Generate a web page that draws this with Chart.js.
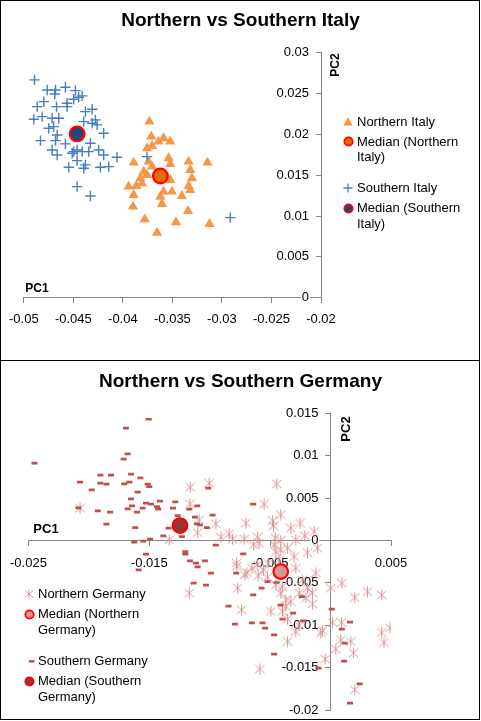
<!DOCTYPE html>
<html><head><meta charset="utf-8">
<script src="https://cdn.jsdelivr.net/npm/chart.js@4.4.1/dist/chart.umd.min.js"></script>
<style>
html,body{margin:0;padding:0;background:#fff;}
body{width:481px;height:721px;position:relative;overflow:hidden;font-family:"Liberation Sans",Arial,sans-serif;}
canvas{position:absolute;left:0;}
.panel{position:absolute;left:0;width:480px;box-sizing:border-box;border:1px solid #000;pointer-events:none;}
#p1{top:0;height:361px;}
#p2{top:360px;height:360px;}
.t{position:absolute;white-space:nowrap;color:#000;}
.title{font-weight:bold;font-size:19px;line-height:22px;width:481px;text-align:center;left:0;}
.ax{font-weight:bold;line-height:1;transform:translate(-50%,-50%);}
.axv{font-weight:bold;line-height:1;transform:translate(-50%,-50%) rotate(-90deg);}
.lg{font-size:13px;line-height:15.6px;}
.mk{position:absolute;overflow:visible;}
</style></head><body>
<canvas id="c1" width="481" height="360" style="top:0"></canvas>
<canvas id="c2" width="481" height="361" style="top:360px"></canvas>
<div class="panel" id="p1"></div>
<div class="panel" id="p2"></div>

<div class="t title" style="top:9px">Northern vs Southern Italy</div>
<div class="t ax" style="left:37px;top:288px;font-size:12px">PC1</div>
<div class="t axv" style="left:335px;top:65px;font-size:12px">PC2</div>

<svg class="mk" width="10" height="9" style="left:343px;top:117px"><polygon points="5,0.3 9.7,8.6 0.3,8.6" fill="#F79646"/></svg>
<div class="t lg" style="left:357px;top:113.7px">Northern Italy</div>
<svg class="mk" width="11" height="11" style="left:342.5px;top:136.2px"><circle cx="5.5" cy="5.5" r="4.2" fill="#E46C0A" stroke="#FF0000" stroke-width="1.8"/></svg>
<div class="t lg" style="left:357px;top:133.7px">Median (Northern<br>Italy)</div>
<svg class="mk" width="10" height="10" style="left:343px;top:183.3px"><path d="M0.5,5H9.5M5,0.5V9.5" stroke="#4A7EBB" stroke-width="1.3"/></svg>
<div class="t lg" style="left:357px;top:180.3px">Southern Italy</div>
<svg class="mk" width="11" height="11" style="left:342.5px;top:202.8px"><circle cx="5.5" cy="5.5" r="4.2" fill="#1F497D" stroke="#FF0000" stroke-width="1.8"/></svg>
<div class="t lg" style="left:357px;top:200.3px">Median (Southern<br>Italy)</div>

<div class="t title" style="top:369.7px">Northern vs Southern Germany</div>
<div class="t ax" style="left:46px;top:528px;font-size:13px">PC1</div>
<div class="t axv" style="left:344.5px;top:429px;font-size:13px">PC2</div>

<svg class="mk" width="10" height="10" style="left:24px;top:589.3px"><path d="M5,0.5V9.5M1,1.5L9,8.5M9,1.5L1,8.5" stroke="#D99694" stroke-width="1"/></svg>
<div class="t lg" style="left:38px;top:586.3px">Northern Germany</div>
<svg class="mk" width="11" height="11" style="left:23.8px;top:608.8px"><circle cx="5.5" cy="5.5" r="4.2" fill="#D99694" stroke="#FF0000" stroke-width="1.8"/></svg>
<div class="t lg" style="left:38px;top:606.3px">Median (Northern<br>Germany)</div>
<svg class="mk" width="6" height="3" style="left:28.5px;top:659.7px"><rect x="0" y="0" width="5.5" height="2.6" fill="#C0504D"/></svg>
<div class="t lg" style="left:38px;top:653px">Southern Germany</div>
<svg class="mk" width="11" height="11" style="left:23.8px;top:675.5px"><circle cx="5.5" cy="5.5" r="4.2" fill="#953735" stroke="#FF0000" stroke-width="1.8"/></svg>
<div class="t lg" style="left:38px;top:673px">Median (Southern<br>Germany)</div>

<script>
// ---------------- Data: Northern vs Southern Italy ----------------
const italyNorthX = [-0.03733,-0.03713,-0.03589,-0.03522,-0.0364,-0.03706,-0.03756,-0.03538,-0.03891,-0.0374,-0.03522,-0.03337,-0.03146,-0.0379,-0.03756,-0.0332,-0.03303,-0.03522,-0.03807,-0.03942,-0.03864,-0.03337,-0.0332,-0.03589,-0.03505,-0.03891,-0.03622,-0.03404,-0.03605,-0.03898,-0.03343,-0.0378,-0.03464,-0.03126,-0.03655,-0.03706,-0.03824,-0.03555];
const italyNorthY = [0.02156,0.01972,0.01953,0.01911,0.01911,0.01858,0.0183,0.01708,0.01654,0.01666,0.01638,0.01666,0.01654,0.01544,0.01503,0.01564,0.01463,0.01442,0.01401,0.0136,0.01368,0.01368,0.01319,0.01299,0.01299,0.01258,0.01237,0.01246,0.01148,0.01115,0.01062,0.0096,0.00924,0.00903,0.00796,0.01605,0.01463,0.01483];
const italySouthX = [-0.04892,-0.04764,-0.0468,-0.04688,-0.0458,-0.04479,-0.04496,-0.04411,-0.04446,-0.04798,-0.04865,-0.0467,-0.04563,-0.04563,-0.04378,-0.0431,-0.04899,-0.04815,-0.04714,-0.04647,-0.04748,-0.04698,-0.04395,-0.0431,-0.04277,-0.0426,-0.04194,-0.04663,-0.04832,-0.0468,-0.0458,-0.04328,-0.04714,-0.04663,-0.04512,-0.04462,-0.04411,-0.04244,-0.04194,-0.04345,-0.04059,-0.04462,-0.04378,-0.04546,-0.04395,-0.04227,-0.04143,-0.04462,-0.04328,-0.04496,-0.03756,-0.02916];
const italySouthY = [0.02667,0.02544,0.02544,0.02495,0.02577,0.02536,0.0243,0.02471,0.02455,0.02401,0.0234,0.0234,0.02381,0.0234,0.02279,0.02308,0.02185,0.02217,0.02198,0.02198,0.02075,0.02095,0.02156,0.02136,0.02177,0.02116,0.02014,0.01993,0.01923,0.01923,0.01883,0.01891,0.01809,0.01748,0.01769,0.01809,0.01789,0.01809,0.01748,0.01789,0.0172,0.01678,0.01626,0.01597,0.01585,0.01597,0.01605,0.0136,0.01246,0.01789,0.01727,0.0098];
const italyNorthMedian = [-0.03622, 0.0149];
const italySouthMedian = [-0.04462, 0.02005];
const italyXTicks = [-0.05,-0.045,-0.04,-0.035,-0.03,-0.025,-0.02];
const italyYTicks = [0,0.005,0.01,0.015,0.02,0.025,0.03];

// ---------------- Data: Northern vs Southern Germany ----------------
const gerNorthX = [-0.02073,-0.01161,-0.01004,-0.01164,-0.01087,-0.00949,-0.0110,-0.01335,-0.00907,-0.00839,-0.00811,-0.00701,-0.00715,-0.00778,-0.00709,-0.00693,-0.00769,-0.01169,-0.00736,-0.00445,-0.0055,-0.00604,-0.00591,-0.00637,-0.0048,-0.00472,-0.00412,-0.00329,-0.00252,-0.00213,-0.00136,-0.00191,-0.00108,-0.00288,-0.00412,-0.00459,-0.00467,-0.00412,-0.00356,-0.00302,-0.00517,-0.00604,-0.00651,-0.00775,-0.00585,-0.00453,-0.00453,-0.00398,-0.00412,-0.0037,-0.00288,-0.00232,-0.00191,-0.0015,-0.00205,-0.0015,-0.0026,-0.00122,-0.00494,-0.0037,-0.00329,-0.00398,-0.00356,-0.0026,-0.00288,-0.00356,-0.00067,-0.00081,0.00016,0.0009,0.00084,0.00167,0.00043,0.00189,-0.00045,0.0,0.00093,0.0020,0.00305,0.00423,0.00492,0.00423,0.00442,0.0020,-0.00555,-0.00426,-0.00599,-0.00521];
const gerNorthY = [0.00381,0.00629,0.00676,0.00432,0.00243,0.00196,0.00093,0.00007,0.00039,0.00078,0.00015,0.00204,0.00015,-0.00268,-0.00406,-0.00379,-0.00563,-0.00621,-0.00818,0.00667,0.00428,0.00039,-0.00032,-0.00052,0.00235,0.00172,0.00302,0.00145,0.00204,0.00054,0.00105,-0.00143,-0.00091,0.00007,-0.00001,0.00027,-0.00052,-0.00111,-0.00091,-0.0019,-0.00268,-0.00288,-0.00327,-0.0030,-0.01518,-0.00131,-0.00524,-0.00544,-0.00621,-0.0070,-0.00327,-0.00465,-0.00563,-0.00621,-0.0068,-0.00748,-0.00621,-0.00386,-0.00838,-0.00779,-0.0072,-0.00838,-0.00928,-0.01004,-0.01074,-0.01192,-0.01063,-0.01093,-0.00968,-0.00968,-0.01172,-0.01192,-0.01282,-0.01329,-0.0140,-0.00563,-0.00504,-0.00673,-0.00603,-0.00642,-0.01034,-0.01086,-0.01204,-0.01762,-0.00347,-0.00229,-0.00417,-0.00433];
const gerSouthX = [-0.01505,-0.01693,-0.0245,-0.01679,-0.01712,-0.01905,-0.01817,-0.01651,-0.01574,-0.02073,-0.01905,-0.01855,-0.01707,-0.01665,-0.01513,-0.0150,-0.01976,-0.01596,-0.01651,-0.01527,-0.01486,-0.01412,-0.01643,-0.01555,-0.01679,-0.01602,-0.01436,-0.01426,-0.01285,-0.01304,-0.01169,-0.02087,-0.01926,-0.01825,-0.01855,-0.01616,-0.0134,-0.01384,-0.01494,-0.01624,-0.0155,-0.01527,-0.01202,-0.01202,-0.01265,-0.01103,-0.01122,-0.01081,-0.01106,-0.01023,-0.00976,-0.01012,-0.00949,-0.0123,-0.01588,-0.01164,-0.01114,-0.0110,-0.0104,-0.0099,-0.01133,-0.01031,-0.00844,-0.00792,-0.00723,-0.00781,-0.0064,-0.00651,-0.00563,-0.0064,-0.00571,-0.00541,-0.00521,-0.00447,-0.00467,-0.00414,-0.00398,-0.00467,-0.0031,-0.00238,-0.00227,0.0001,0.00161,0.00093,0.00117,0.00112,-0.001,0.00241,0.00161];
const gerSouthY = [0.0143,0.01324,0.00912,0.01021,0.00959,0.0077,0.0077,0.00782,0.00738,0.00688,0.00676,0.00664,0.00667,0.00688,0.00664,0.00636,0.00597,0.0057,0.00491,0.0044,0.00428,0.00463,0.00408,0.00381,0.00373,0.00334,0.0040,0.00369,0.00455,0.00381,0.00369,0.00384,0.00349,0.00334,0.00192,0.00152,0.00145,0.00054,0.00015,-0.0002,-0.00008,-0.00162,-0.00131,-0.00162,0.00294,0.00408,0.00275,0.00184,0.00196,0.00152,0.00298,0.00617,-0.00055,0.00046,-0.00347,-0.00241,-0.00268,-0.00311,-0.00241,-0.00386,-0.00504,-0.00527,-0.00775,-0.00987,-0.00158,-0.00386,0.00428,-0.00972,-0.00972,-0.00642,-0.00563,-0.01034,-0.00485,-0.00496,-0.01113,-0.00763,-0.00928,-0.01341,-0.00857,-0.00662,-0.00948,-0.0081,-0.00963,-0.01046,-0.01211,-0.01423,-0.01506,-0.01691,-0.01919];
const gerNorthMedian = [-0.00412, -0.00367];
const gerSouthMedian = [-0.01246, 0.00176];
const gerXTicks = [-0.025,-0.015,-0.005,0.005];
const gerYTicks = [-0.02,-0.015,-0.01,-0.005,0,0.005,0.01,0.015];

// ---------------- helpers ----------------
const FONT = "'Liberation Sans', Arial, sans-serif";
Chart.defaults.font.family = FONT;
const pts = (xs, ys) => xs.map((x, i) => ({x, y: ys[i]}));
const fmt = v => String(Number(Number(v).toPrecision(6)));
const TICK_LEN = 5, TICK_PAD = 7;

function asterisk(color) {
  const c = document.createElement('canvas');
  c.width = 11; c.height = 12;
  const g = c.getContext('2d');
  g.strokeStyle = color; g.lineWidth = 1;
  g.beginPath();
  g.moveTo(5.5, 0.5); g.lineTo(5.5, 11.5);
  g.moveTo(0.8, 1.8); g.lineTo(10.2, 10.2);
  g.moveTo(10.2, 1.8); g.lineTo(0.8, 10.2);
  g.stroke();
  return c;
}

function median(label, pt, fill) {
  return {label, data: [{x: pt[0], y: pt[1]}], pointStyle: 'circle', pointRadius: 7.3,
    pointBackgroundColor: fill, pointBorderColor: '#FF0000', pointBorderWidth: 2.2, order: 0};
}

// y tick labels drawn next to the crossing axis (left of it), with a white backdrop
const yLabelPlugin = {
  id: 'yLabels',
  beforeDatasetsDraw(chart, args, opts) {
    const ys = chart.scales.y, xs = chart.scales.x;
    const ax = xs.getPixelForValue(opts.cross) - TICK_LEN - TICK_PAD;
    const ctx = chart.ctx;
    ctx.save();
    ctx.font = '13px ' + FONT;
    ctx.textAlign = 'right';
    ctx.textBaseline = 'middle';
    ys.ticks.forEach(t => {
      const y = ys.getPixelForValue(t.value);
      const s = fmt(t.value);
      const w = ctx.measureText(s).width;
      ctx.fillStyle = '#fff';
      ctx.fillRect(ax - w - 1, y - 6, w + 2, 12);
      ctx.fillStyle = '#000';
      ctx.fillText(s, ax, y);
    });
    ctx.restore();
  }
};

function axisOpts(ticksArr, min, max, pos, showLabels, pad) {
  return {
    type: 'linear', min, max, position: pos,
    grid: {display: true, drawOnChartArea: false, drawTicks: true, tickLength: TICK_LEN, color: '#868686', lineWidth: 1},
    border: {display: true, color: '#868686', width: 1},
    ticks: {display: showLabels, color: '#000', font: {family: FONT, size: 13}, padding: pad, maxRotation: 0, autoSkip: false, callback: fmt},
    afterBuildTicks: s => { s.ticks = ticksArr.map(v => ({value: v})); }
  };
}

function makeChart(id, datasets, xs, ys, pad, cross) {
  return new Chart(document.getElementById(id), {
    type: 'scatter',
    data: {datasets},
    plugins: [yLabelPlugin],
    options: {
      responsive: false, animation: false, devicePixelRatio: 1, events: [],
      layout: {padding: pad},
      plugins: {legend: {display: false}, tooltip: {enabled: false}, title: {display: false}, yLabels: {cross}},
      scales: {x: xs, y: ys}
    }
  });
}

// ---------------- Italy chart ----------------
makeChart('c1', [
  median('Median (Southern Italy)', italySouthMedian, '#1F497D'),
  median('Median (Northern Italy)', italyNorthMedian, '#E46C0A'),
  {label: 'Southern Italy', data: pts(italySouthX, italySouthY), pointStyle: 'cross', pointRadius: 5.2,
   pointBorderColor: '#4A7EBB', pointBackgroundColor: '#4A7EBB', pointBorderWidth: 1.4, order: 2},
  {label: 'Northern Italy', data: pts(italyNorthX, italyNorthY), pointStyle: 'triangle', pointRadius: 5.9,
   pointBackgroundColor: '#F79646', pointBorderColor: '#F79646', pointBorderWidth: 0, order: 3}
],
  axisOpts(italyXTicks, -0.05, -0.02, {y: 0}, true, 9),
  axisOpts(italyYTicks, 0, 0.03, {x: -0.02}, false, 7),
  {left: 23.3, right: 160, top: 52.7, bottom: 62.3}, -0.02);

// ---------------- Germany chart ----------------
const star = asterisk('#D99694');
makeChart('c2', [
  median('Median (Southern Germany)', gerSouthMedian, '#953735'),
  median('Median (Northern Germany)', gerNorthMedian, '#D99694'),
  {label: 'Southern Germany', data: pts(gerSouthX, gerSouthY), pointStyle: 'line', pointRadius: 3,
   pointBorderColor: '#C0504D', pointBackgroundColor: '#C0504D', pointBorderWidth: 2.7, order: 2},
  {label: 'Northern Germany', data: pts(gerNorthX, gerNorthY), pointStyle: star, pointRadius: 5, order: 3}
],
  axisOpts(gerXTicks, -0.025, 0.005, {y: 0}, true, 10),
  axisOpts(gerYTicks, -0.02, 0.015, {x: 0}, false, 7),
  {left: 27.3, right: 90, top: 53.3, bottom: 11}, 0);
</script>
</body></html>
